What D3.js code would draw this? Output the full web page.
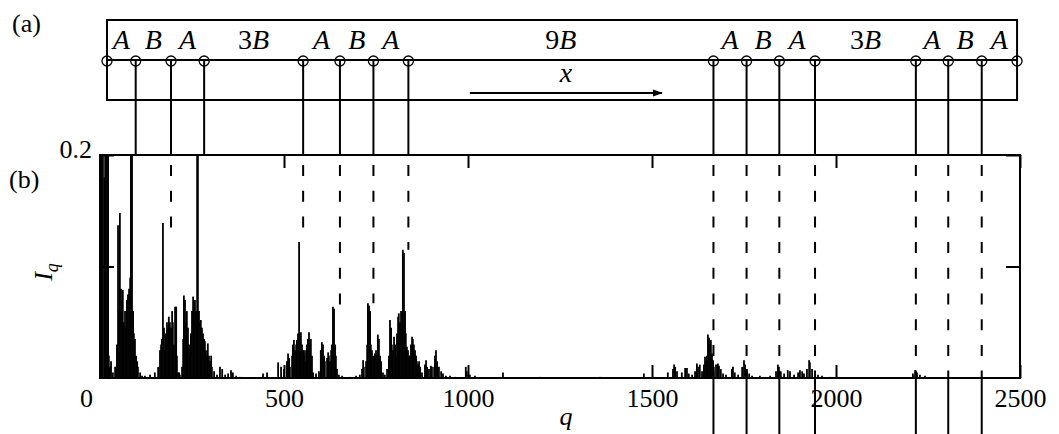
<!DOCTYPE html>
<html>
<head>
<meta charset="utf-8">
<script src="https://cdn.jsdelivr.net/npm/d3@7"></script>
<style>
  body { margin: 0; background: #fff; }
  svg { display: block; }
  text { font-family: "Liberation Serif", "Times New Roman", Times, serif; fill: #000; }
</style>
</head>
<body>
<svg id="chart" width="1059" height="434"></svg>
<script>
// q ticks and the y range of the spectrum
const qTicks = [0, 500, 1000, 1500, 2000, 2500];
const iTicks = [0.1, 0.2];

// chain (panel a): site positions projected on q, plus the two box ends
const chainEnds = [19, 2492];
const chainQ = [97, 193, 283, 552, 652, 743, 838, 1667, 1757, 1846, 1943, 2217, 2305, 2396];
const segLabels = ["A", "B", "A", "3B", "A", "B", "A", "9B", "A", "B", "A", "3B", "A", "B", "A"];
// where the dashed guide ends inside panel b (0 = runs through, continues below)
const dashStop = [0.2, 0.135, 0.2, 0.122, 0.064, 0.067, 0.115, 0, 0, 0, 0, 0, 0, 0];
const arrowQ = [1005, 1527];

// spectrum I_q as [q, I] spikes
const cluster1 = [
  [3,0.25],[5,0.25],[8,0.25],[12,0.18],[14,0.25],[16,0.25],[19,0.25],[22,0.25],[24,0.02],[27,0.01],
  [30,0.015],[35,0.005],[41,0.01],[46,0.03],[49,0.137],[52,0.06],[54,0.148],[57,0.08],[60,0.07],[62,0.079],
  [65,0.05],[68,0.06],[71,0.045],[73,0.07],[76,0.075],[79,0.08],[82,0.09],[84,0.25],[87,0.25],[90,0.06],
  [92,0.04],[95,0.035],[98,0.02],[101,0.015],[103,0.01],[109,0.005],[114,0.002],[122,0.002],[136,0.003],[149,0.005],
  [158,0.01],[163,0.025],[166,0.03],[168,0.035],[171,0.139],[174,0.045],[177,0.025],[179,0.04],[182,0.05],[185,0.045],
  [187,0.055],[190,0.05],[193,0.045],[196,0.06],[198,0.05],[201,0.03],[204,0.064],[207,0.064],[209,0.02],[212,0.005],
  [215,0.005],[217,0.003],[223,0.01],[226,0.035],[228,0.074],[231,0.07],[234,0.05],[236,0.06],[239,0.045],[242,0.03],
  [245,0.02],[247,0.04],[250,0.06],[253,0.073],[255,0.065],[258,0.07],[261,0.06],[264,0.25],[266,0.25],[269,0.06],
  [272,0.05],[274,0.052],[277,0.045],[280,0.04],[283,0.035],[285,0.033],[288,0.025],[291,0.02],[293,0.031],[296,0.02],
  [299,0.015],[302,0.02],[304,0.01],[310,0.006],[318,0.003],[326,0.01],[332,0.008],[340,0.003],[348,0.004],[356,0.007],
  [361,0.005],[370,0.002],[380,0.001],[443,0.004],[454,0.005],[484,0.014]
];
const cluster2 = [
  [492,0.01],[500,0.008],[508,0.015],[511,0.022],[514,0.018],[516,0.01],[522,0.02],[524,0.03],[527,0.034],[530,0.025],
  [533,0.03],[535,0.034],[538,0.04],[541,0.122],[543,0.035],[546,0.041],[549,0.03],[552,0.025],[554,0.02],[557,0.025],
  [560,0.015],[562,0.03],[565,0.035],[568,0.041],[571,0.03],[573,0.035],[576,0.02],[579,0.005],[587,0.004],[595,0.006],
  [600,0.025],[603,0.032],[606,0.03],[609,0.02],[611,0.015],[617,0.018],[620,0.023],[622,0.02],[625,0.015],[628,0.025],
  [630,0.03],[633,0.064],[636,0.062],[639,0.03],[641,0.02],[644,0.008],[649,0.003],[658,0.002]
];
const cluster3 = [
  [679,0.001],[696,0.002],[706,0.003],[712,0.008],[715,0.016],[717,0.01],[723,0.015],[726,0.03],[728,0.067],[731,0.065],
  [734,0.06],[736,0.03],[739,0.025],[742,0.02],[745,0.015],[747,0.022],[750,0.025],[753,0.02],[755,0.039],[758,0.035],
  [761,0.02],[764,0.015],[769,0.005],[774,0.003],[780,0.008],[785,0.02],[788,0.052],[791,0.045],[793,0.03],[796,0.025],
  [799,0.037],[802,0.03],[804,0.02],[807,0.04],[810,0.055],[812,0.058],[815,0.05],[818,0.06],[821,0.058],[823,0.115],
  [826,0.112],[829,0.06],[831,0.04],[834,0.028],[837,0.025],[840,0.02],[842,0.02],[845,0.03],[848,0.037],[850,0.035],
  [853,0.03],[856,0.025],[859,0.02],[861,0.015],[864,0.012],[867,0.015],[870,0.01],[875,0.005],[883,0.012],[886,0.016],
  [889,0.01],[894,0.008],[899,0.011],[902,0.01],[908,0.01],[910,0.02],[913,0.025],[916,0.015],[921,0.01],[927,0.006],
  [932,0.004],[940,0.002],[951,0.002],[965,0.001],[978,0.001],[994,0.01],[997,0.006],[1005,0.003],[1019,0.002],[1046,0.001],
  [1095,0.005],[1196,0.001],[1359,0.001],[1478,0.004],[1543,0.005]
];
const cluster4 = [
  [1557,0.008],[1560,0.012],[1563,0.01],[1568,0.006],[1581,0.005],[1590,0.009],[1595,0.009],[1600,0.004],[1609,0.003],[1617,0.006],
  [1622,0.013],[1625,0.01],[1630,0.012],[1636,0.006],[1641,0.012],[1644,0.019],[1647,0.015],[1649,0.02],[1652,0.039],[1655,0.036],
  [1658,0.03],[1660,0.034],[1663,0.022],[1666,0.016],[1668,0.01],[1674,0.012],[1679,0.013],[1682,0.011],[1687,0.008],[1693,0.004],
  [1701,0.003],[1717,0.008],[1720,0.01],[1725,0.005],[1734,0.003],[1745,0.01],[1750,0.016],[1753,0.012],[1758,0.008],[1764,0.004],
  [1772,0.002],[1793,0.002]
];
const cluster5 = [
  [1821,0.002],[1837,0.006],[1842,0.012],[1845,0.01],[1850,0.006],[1859,0.004],[1869,0.007],[1875,0.006],[1886,0.003],[1897,0.005],
  [1902,0.007],[1908,0.006],[1913,0.004],[1921,0.008],[1927,0.016],[1929,0.014],[1935,0.008],[1943,0.004],[1951,0.003],[1962,0.002],
  [1984,0.001],[2209,0.004],[2215,0.007],[2220,0.005],[2228,0.003],[2242,0.002]
];
const spectrum = [].concat(cluster1, cluster2, cluster3, cluster4, cluster5);

const W = 1059, H = 434;
const plot = { left: 100, right: 1020, top: 155, bottom: 378 };
const box = { top: 20, bottom: 100, chainY: 60 };
const font = 26;
const serif = "'Liberation Serif', 'Times New Roman', Times, serif";

const svg = d3.select("#chart");

const x = d3.scaleLinear().domain([0, 2500]).range([plot.left, plot.right]);
const y = d3.scaleLinear().domain([0, 0.2]).range([plot.bottom, plot.top]);

// ---------- panel (b) ----------
svg.append("clipPath").attr("id", "clip")
  .append("rect")
  .attr("x", plot.left).attr("y", plot.top)
  .attr("width", plot.right - plot.left).attr("height", plot.bottom - plot.top);

svg.append("g").attr("clip-path", "url(#clip)")
  .selectAll("line")
  .data(spectrum)
  .join("line")
  .attr("x1", d => x(d[0])).attr("x2", d => x(d[0]))
  .attr("y1", y(0)).attr("y2", d => y(d[1]))
  .attr("stroke", "#000").attr("stroke-width", 1.8);

const xAxis = svg.append("g")
  .attr("transform", `translate(0,${plot.bottom})`)
  .call(d3.axisBottom(x).tickValues(qTicks).tickSize(-13).tickPadding(11).tickFormat(d3.format("d")));
const xTop = svg.append("g")
  .attr("transform", `translate(0,${plot.top})`)
  .call(d3.axisTop(x).tickValues(qTicks).tickSize(-13).tickFormat(""));
const yAxis = svg.append("g")
  .attr("transform", `translate(${plot.left},0)`)
  .call(d3.axisLeft(y).tickValues(iTicks).tickSize(-14).tickPadding(8)
    .tickFormat(d => d === 0.2 ? "0.2" : ""));
const yRight = svg.append("g")
  .attr("transform", `translate(${plot.right},0)`)
  .call(d3.axisRight(y).tickValues(iTicks).tickSize(-14).tickFormat(""));

[xAxis, xTop, yAxis, yRight].forEach(g => {
  g.attr("font-family", serif).attr("font-size", font);
  g.select(".domain").remove();
  g.selectAll(".tick line").attr("stroke", "#000").attr("stroke-width", 2);
  g.selectAll("text").attr("fill", "#000");
});
xAxis.selectAll(".tick text").filter(d => d === 0).attr("dx", -14);
yAxis.selectAll(".tick text").attr("dy", "0.1em");

svg.append("rect")
  .attr("x", plot.left).attr("y", plot.top)
  .attr("width", plot.right - plot.left).attr("height", plot.bottom - plot.top)
  .attr("fill", "none").attr("stroke", "#000").attr("stroke-width", 2);

// ---------- panel (a) ----------
svg.append("rect")
  .attr("x", x(chainEnds[0])).attr("y", box.top)
  .attr("width", x(chainEnds[1]) - x(chainEnds[0])).attr("height", box.bottom - box.top)
  .attr("fill", "none").attr("stroke", "#000").attr("stroke-width", 2);

svg.append("line")
  .attr("x1", x(chainEnds[0])).attr("x2", x(chainEnds[1]))
  .attr("y1", box.chainY).attr("y2", box.chainY)
  .attr("stroke", "#000").attr("stroke-width", 2);

// guides from each site down to the spectrum
const guides = svg.append("g");
chainQ.forEach((q, i) => {
  guides.append("line")
    .attr("x1", x(q)).attr("x2", x(q))
    .attr("y1", box.chainY).attr("y2", plot.top)
    .attr("stroke", "#000").attr("stroke-width", 2);
  if (dashStop[i] < 0.2) {
    guides.append("line")
      .attr("x1", x(q)).attr("x2", x(q))
      .attr("y1", plot.top).attr("y2", y(dashStop[i]))
      .attr("stroke", "#000").attr("stroke-width", 2)
      .attr("stroke-dasharray", "11 14.7").attr("stroke-dashoffset", 15.7);
  }
  if (dashStop[i] === 0) {
    guides.append("line")
      .attr("x1", x(q)).attr("x2", x(q))
      .attr("y1", plot.bottom).attr("y2", H)
      .attr("stroke", "#000").attr("stroke-width", 2);
  }
});

const sites = [chainEnds[0]].concat(chainQ, [chainEnds[1]]);
svg.append("g").selectAll("circle")
  .data(sites)
  .join("circle")
  .attr("cx", d => x(d)).attr("cy", box.chainY + 1).attr("r", 5)
  .attr("fill", "none").attr("stroke", "#000").attr("stroke-width", 1.3);

const segs = svg.append("g");
segLabels.forEach((lab, i) => {
  const t = segs.append("text")
    .attr("x", x((sites[i] + sites[i + 1]) / 2))
    .attr("y", 49)
    .attr("text-anchor", "middle")
    .attr("font-size", 28);
  const num = lab.slice(0, -1);
  if (num) t.append("tspan").text(num);
  t.append("tspan").attr("font-style", "italic").text(lab.slice(-1));
});

// arrow along x
svg.append("defs").append("marker")
  .attr("id", "head").attr("viewBox", "0 0 10 10")
  .attr("refX", 9).attr("refY", 5)
  .attr("markerWidth", 15).attr("markerHeight", 10)
  .attr("markerUnits", "userSpaceOnUse")
  .attr("orient", "auto")
  .append("path").attr("d", "M0,1.5 L10,5 L0,8.5 Z").attr("fill", "#000");

svg.append("line")
  .attr("x1", x(arrowQ[0])).attr("x2", x(arrowQ[1]))
  .attr("y1", 93).attr("y2", 93)
  .attr("stroke", "#000").attr("stroke-width", 1.8)
  .attr("marker-end", "url(#head)");

svg.append("text")
  .attr("x", x((arrowQ[0] + arrowQ[1]) / 2)).attr("y", 82)
  .attr("text-anchor", "middle").attr("font-size", 28).attr("font-style", "italic")
  .text("x");

// ---------- labels ----------
svg.append("text").attr("x", 12).attr("y", 32).attr("font-size", font).text("(a)");
svg.append("text").attr("x", 9).attr("y", 188).attr("font-size", font).text("(b)");

svg.append("text")
  .attr("x", x(1266)).attr("y", 425)
  .attr("text-anchor", "middle").attr("font-size", font).attr("font-style", "italic")
  .text("q");

const yl = svg.append("text")
  .attr("transform", "translate(52,272) rotate(-90)")
  .attr("text-anchor", "middle").attr("font-size", font).attr("font-style", "italic");
yl.append("tspan").text("I");
yl.append("tspan").attr("font-size", 18).attr("dy", 6).text("q");
</script>
</body>
</html>
